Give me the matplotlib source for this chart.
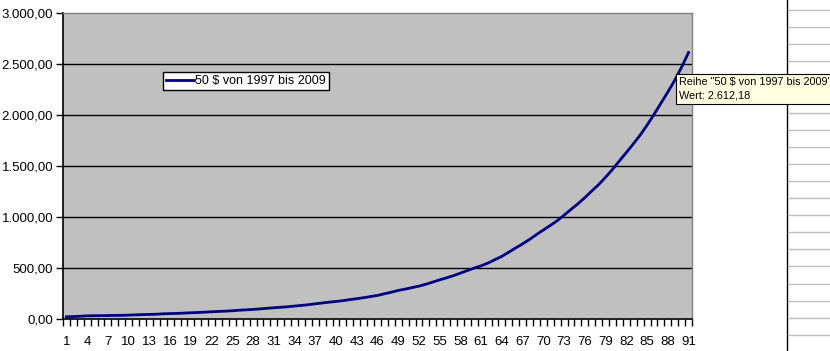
import matplotlib
matplotlib.use("Agg")
import matplotlib.pyplot as plt
from matplotlib.lines import Line2D
from matplotlib.ticker import FuncFormatter, MultipleLocator

plt.rcParams['font.family'] = ['Liberation Sans', 'DejaVu Sans']

# series: 91 values
series_name = "50 $ von 1997 bis 2009"
values = [22, 24, 27, 31, 32, 33, 34, 35, 36, 38,
          41, 43, 45, 47, 51, 53, 55, 58, 61, 64,
          67, 71, 74, 77, 81, 86, 90, 94, 99, 105,
          110, 115, 120, 127, 133, 140, 149, 157, 165, 172,
          180, 190, 199, 209, 220, 231, 247, 263, 280, 293,
          308, 322, 341, 362, 384, 404, 425, 450, 475, 500,
          522, 549, 582, 615, 655, 697, 737, 780, 828, 873,
          917, 964, 1018, 1075, 1130, 1190, 1255, 1318, 1390, 1467,
          1550, 1632, 1716, 1803, 1900, 2005, 2115, 2225, 2340, 2470,
          2612.18]
categories = list(range(1, len(values) + 1))
tick_labels = categories[::3]
y_ticks = [0, 500, 1000, 1500, 2000, 2500, 3000]
tooltip = 'Reihe "50 $ von 1997 bis 2009"\nWert: 2.612,18'

W, H = 830, 351
fig = plt.figure(figsize=(W / 100, H / 100), dpi=100)
fig.patch.set_facecolor("white")

# plot area in pixel coords
left, right, top, bottom = 63, 692, 13, 319
ax = fig.add_axes([left / W, 1 - bottom / H, (right - left) / W, (bottom - top) / H])
ax.set_facecolor("#c0c0c0")

ax.plot(categories, values, color="#000080", lw=2, label=series_name)

ax.set_xlim(0.5, len(values) + 0.5)
ax.set_ylim(0, 3000)

# gridlines
for v in y_ticks[1:-1]:
    ax.axhline(v, color="black", lw=1, zorder=1)

def de_fmt(v, pos=None):
    s = f"{v:,.2f}"
    return s.replace(",", "X").replace(".", ",").replace("X", ".")

ax.set_yticks(y_ticks)
ax.yaxis.set_major_formatter(FuncFormatter(de_fmt))
ax.tick_params(axis="y", direction="out", length=5, width=1, labelsize=9.5, pad=2)

ax.set_xticks(tick_labels)
ax.set_xticklabels([str(t) for t in tick_labels])
ax.xaxis.set_minor_locator(MultipleLocator(1, offset=0.5))
ax.tick_params(axis="x", which="major", length=0, labelsize=9.5, pad=12)
ax.tick_params(axis="x", which="minor", direction="out", length=5, width=1)

for s in ["left", "bottom"]:
    ax.spines[s].set_color("black")
    ax.spines[s].set_linewidth(1.2)
for s in ["top", "right"]:
    ax.spines[s].set_color("#808080")
    ax.spines[s].set_linewidth(1)

leg = ax.legend(loc="upper left", bbox_to_anchor=((163 - left) / (right - left), 1 - (72 - top) / (bottom - top)),
                frameon=True, fancybox=False, fontsize=9, handlelength=2.2, handletextpad=0.1,
                borderpad=0.25, borderaxespad=0, framealpha=1)
leg.get_frame().set_edgecolor("black")
leg.get_frame().set_linewidth(1)

# tooltip
fig.text(679 / W, 1 - 89 / H, tooltip, fontsize=7.8, va="center", ha="left",
         linespacing=1.45,
         bbox=dict(boxstyle="square,pad=0.25", facecolor="#ffffe1", edgecolor="black", lw=0.8))

# spreadsheet columns on the right
fig.add_artist(Line2D([787 / W, 787 / W], [0, 1], color="black", lw=1, transform=fig.transFigure))
yy = 10
while yy < H:
    if not (70 < yy < 108):
        fig.add_artist(Line2D([788 / W, 1], [1 - yy / H, 1 - yy / H], color="#c0c0c0", lw=1,
                              transform=fig.transFigure))
    yy += 17.1

fig.savefig("out.png", dpi=100)
